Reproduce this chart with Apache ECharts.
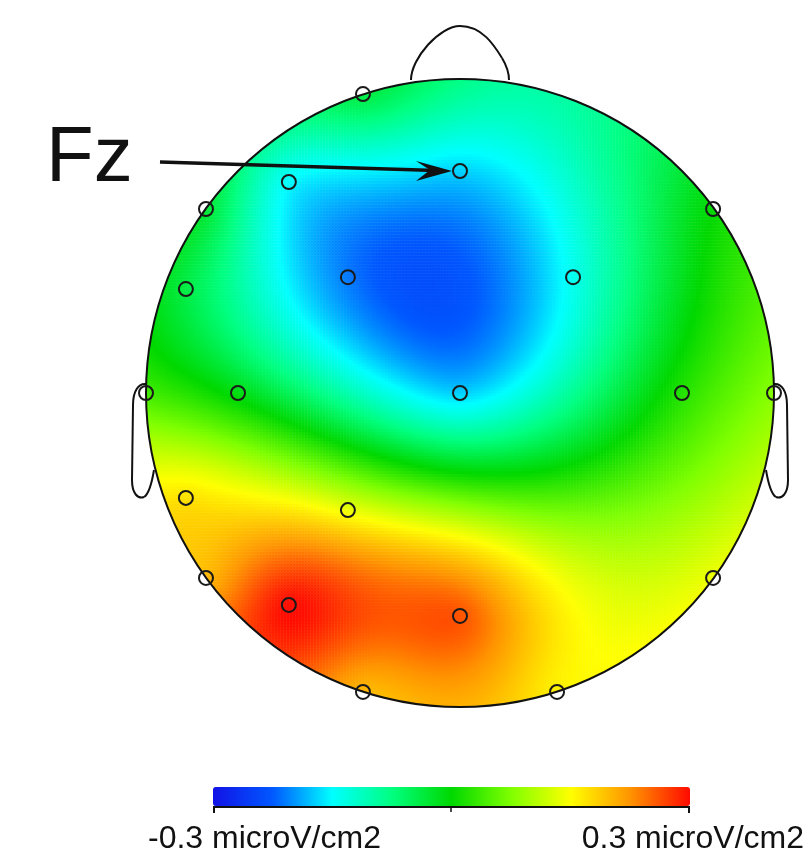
<!DOCTYPE html>
<html>
<head>
<meta charset="utf-8">
<script src="https://cdn.jsdelivr.net/npm/echarts@6/dist/echarts.min.js"></script>
<style>
html,body{margin:0;padding:0;background:#fff;}
#chart{width:809px;height:865px;}
</style>
</head>
<body>
<div id="chart"></div>
<script>
// ---- data: electrode names, positions (unit head radius), values (microV/cm2) ----
var electrodeNames = ['Fp1','Fz','F3','F7','F8','FC3','FC4','FT7','T7','C3','Cz','C4','T8','CP5','CP3','P7','P3','Pz','P8','O1','O2'];
var electrodeX = [-0.309, 0.000, -0.545, -0.809, 0.806, -0.357, 0.360, -0.873, -1.000, -0.707, 0.000, 0.707, 1.000, -0.873, -0.357, -0.809, -0.545, 0.000, 0.806, -0.309, 0.309];
var electrodeY = [ 0.952, 0.707,  0.672,  0.586, 0.586,  0.369, 0.369,  0.331,  0.000,  0.000, 0.000, 0.000, 0.000, -0.334, -0.373, -0.589, -0.675, -0.710, -0.589, -0.952, -0.952];
var electrodeValues = [-0.04, -0.17, -0.15, -0.03, 0.00, -0.21, -0.14, -0.04, 0.04, -0.01, -0.17, 0.02, 0.08, 0.17, 0.14, 0.20, 0.30, 0.26, 0.14, 0.20, 0.16];
var scaleMin = -0.3, scaleMax = 0.3;
var labelLeft = '-0.3 microV/cm2', labelRight = '0.3 microV/cm2';
var markedElectrode = 'Fz';

// ---- biharmonic spline (topographic interpolation of electrode values) ----
function green(r){ return r > 0 ? r*r*(Math.log(r)-1) : 0; }
var n = electrodeValues.length;
var A = [];
for (var i=0;i<n;i++){ A.push([]); for (var j=0;j<n;j++){ var dx=electrodeX[i]-electrodeX[j], dy=electrodeY[i]-electrodeY[j]; A[i].push(green(Math.sqrt(dx*dx+dy*dy))); } A[i].push(electrodeValues[i]); }
for (var c=0;c<n;c++){
  var p=c; for (var r=c+1;r<n;r++) if (Math.abs(A[r][c])>Math.abs(A[p][c])) p=r;
  var t=A[c]; A[c]=A[p]; A[p]=t;
  for (var r2=0;r2<n;r2++){ if(r2===c) continue; var f=A[r2][c]/A[c][c]; for (var k=c;k<=n;k++) A[r2][k]-=f*A[c][k]; }
}
var w=[]; for (var i2=0;i2<n;i2++) w.push(A[i2][n]/A[i2][i2]);
function field(x,y){ var s=0; for (var j=0;j<n;j++){ var dx=x-electrodeX[j], dy=y-electrodeY[j]; s+=w[j]*green(Math.sqrt(dx*dx+dy*dy)); } return s; }

var N = 210;
var cats = []; for (var q=0;q<N;q++) cats.push(q);
var heat = [];
for (var ix=0; ix<N; ix++){
  for (var iy=0; iy<N; iy++){
    var x = -1 + (ix+0.5)*2/N, y = -1 + (iy+0.5)*2/N;
    if (Math.sqrt(x*x+y*y) > 1 + 3/N) continue;
    var v = field(x,y);
    v = Math.max(scaleMin, Math.min(scaleMax, v));
    heat.push([ix, iy, v]);
  }
}
var elecData = electrodeNames.map(function(nm,i){ return {name:nm, value:[electrodeX[i], electrodeY[i]]}; });

// ---- layout ----
var cx=460, cy=393, R=314;
var chart = echarts.init(document.getElementById('chart'), null, {renderer:'canvas'});
var fzIdx = electrodeNames.indexOf(markedElectrode);
var fzPx = [cx + electrodeX[fzIdx]*R, cy - electrodeY[fzIdx]*R];

function bez(a,b,c1,c2){ return {type:'bezierCurve', shape:{x1:a[0],y1:a[1],x2:b[0],y2:b[1],cpx1:c1[0],cpy1:c1[1],cpx2:c2[0],cpy2:c2[1]}, style:{fill:null, stroke:'#111', lineWidth:2}, z:6, silent:true}; }
function seg(a,b){ return {type:'line', shape:{x1:a[0],y1:a[1],x2:b[0],y2:b[1]}, style:{stroke:'#111', lineWidth:2}, z:6, silent:true}; }
function mx(p){ return [2*cx - p[0], p[1]]; }
var earPts = [[146,384],[138,383],[133,392],[133,405],[132,480],[132,494],[138,499],[144,497],[149,494],[152,482],[154,470]];
var outline = [
  bez([411,80],[460,26],[411,58],[440,26]),
  bez([460,26],[502,58],[482,26],[494,45]),
  bez([502,58],[509,80],[508,68],[509,75])
];
[false,true].forEach(function(m){
  var P = earPts.map(function(p){ return m ? mx(p) : p; });
  outline.push(bez(P[0],P[3],P[1],P[2]));
  outline.push(seg(P[3],P[4]));
  outline.push(bez(P[4],P[7],P[5],P[6]));
  outline.push(bez(P[7],P[10],P[8],P[9]));
});

chart.setOption({
  animation:false,
  backgroundColor:'#ffffff',
  grid:[
    {left:cx-R, top:cy-R, width:2*R, height:2*R, show:false},
    {left:cx-R, top:cy-R, width:2*R, height:2*R, show:false}
  ],
  xAxis:[
    {type:'category', data:cats, show:false, gridIndex:0},
    {type:'value', min:-1, max:1, show:false, gridIndex:1}
  ],
  yAxis:[
    {type:'category', data:cats, show:false, gridIndex:0},
    {type:'value', min:-1, max:1, show:false, gridIndex:1}
  ],
  visualMap:{
    type:'continuous', min:scaleMin, max:scaleMax, seriesIndex:0,
    orient:'horizontal', left:213, top:787, itemWidth:19, itemHeight:477,
    calculable:false, realtime:false, text:null, padding:0,
    inRange:{color:['#1212e6','#0058ff','#00ffff','#00ff80','#00d800','#80ff00','#ffff00','#ff9400','#ff0a00']},
    z:10
  },
  series:[
    {type:'heatmap', xAxisIndex:0, yAxisIndex:0, data:heat, progressive:0, itemStyle:{borderWidth:0}, emphasis:{disabled:true}, z:1},
    {type:'scatter', xAxisIndex:1, yAxisIndex:1, data:elecData, symbol:'circle', symbolSize:14,
     itemStyle:{color:'rgba(0,0,0,0)', borderColor:'#1a1a1a', borderWidth:2, opacity:1}, z:20, silent:true}
  ],
  graphic:[
    {type:'circle', shape:{cx:cx, cy:cy, r:R+16}, style:{fill:null, stroke:'#ffffff', lineWidth:32}, z:5, silent:true},
    {type:'circle', shape:{cx:cx, cy:cy, r:R}, style:{fill:null, stroke:'#111', lineWidth:2}, z:6, silent:true}
  ].concat(outline).concat([
    {type:'text', left:46, top:120, style:{text:markedElectrode, font:'78px "Liberation Sans", sans-serif', fill:'#111'}, z:30},
    {type:'line', shape:{x1:160, y1:162, x2:fzPx[0]-24, y2:fzPx[1]-0.5}, style:{stroke:'#111', lineWidth:3.5}, z:30},
    {type:'polygon', shape:{points:[[fzPx[0]-8,fzPx[1]],[fzPx[0]-44,fzPx[1]-10],[fzPx[0]-30,fzPx[1]-1],[fzPx[0]-44,fzPx[1]+10]]}, style:{fill:'#111'}, z:30},
    {type:'line', shape:{x1:213, y1:807, x2:690, y2:807}, style:{stroke:'#111', lineWidth:2}, z:30},
    {type:'line', shape:{x1:214, y1:806, x2:214, y2:813}, style:{stroke:'#111', lineWidth:2}, z:30},
    {type:'line', shape:{x1:451, y1:806, x2:451, y2:812}, style:{stroke:'#111', lineWidth:1.5}, z:30},
    {type:'line', shape:{x1:689, y1:806, x2:689, y2:813}, style:{stroke:'#111', lineWidth:2}, z:30},
    {type:'text', left:148, top:823, style:{text:labelLeft, font:'32px "Liberation Sans", sans-serif', fill:'#111'}, z:30},
    {type:'text', right:5, top:823, style:{text:labelRight, font:'32px "Liberation Sans", sans-serif', fill:'#111'}, z:30}
  ])
});
</script>
</body>
</html>
